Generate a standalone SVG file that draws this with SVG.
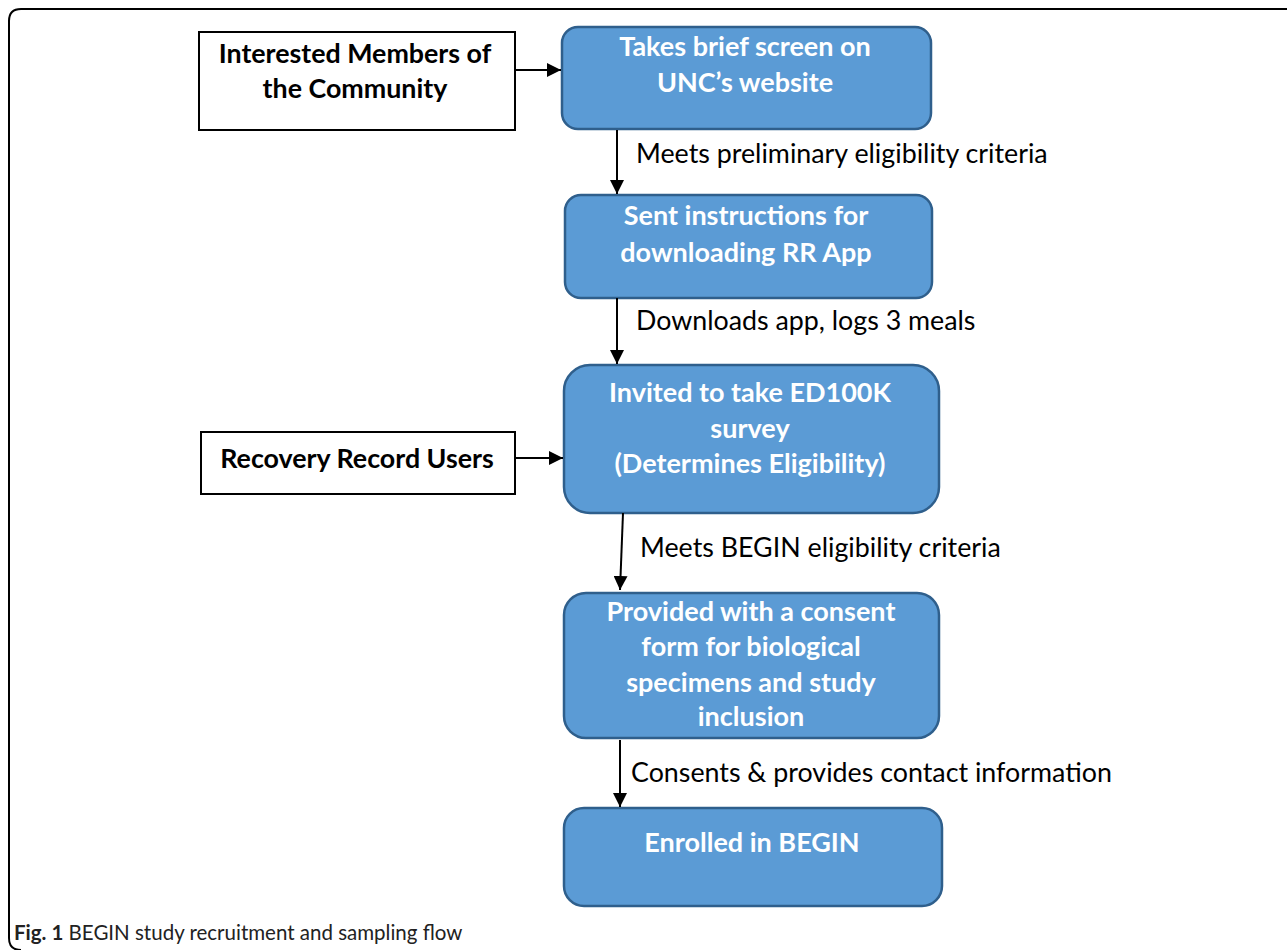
<svg xmlns="http://www.w3.org/2000/svg" width="1287" height="950" viewBox="0 0 1287 950">
<style>
.blue{fill:#5B9BD5;stroke:#2F5F8C;stroke-width:2.5}
.white{fill:#fff;stroke:#000;stroke-width:2}
.bt{font-family:Lato,"Liberation Sans",sans-serif;font-weight:bold;font-size:27px;fill:#fff;text-anchor:middle}
.kt{font-family:Lato,"Liberation Sans",sans-serif;font-weight:bold;font-size:26.8px;fill:#000;text-anchor:middle}
.lab{font-family:Lato,"Liberation Sans",sans-serif;font-size:26.8px;fill:#000}
.cap{font-family:Lato,"Liberation Sans",sans-serif;font-size:20.5px;fill:#222}
.conn{stroke:#000;stroke-width:2;fill:none;marker-end:url(#ah)}
</style>
<defs>
<marker id="ah" viewBox="0 0 10 10" refX="10" refY="5" markerWidth="7" markerHeight="7" orient="auto" markerUnits="strokeWidth">
<path d="M0,0 L10,5 L0,10 z" fill="#000"/>
</marker>
</defs>
<rect width="1287" height="950" fill="#fff"/>
<path d="M1287,9 H21 Q9,9 9,21 V938 Q9,950 21,950" fill="none" stroke="#000" stroke-width="2"/>
<g id="community">
<rect class="white" x="199" y="32" width="316" height="98"/>
<text class="kt" x="355" y="63">Interested Members of</text>
<text class="kt" x="355" y="98">the Community</text>
</g>
<g id="rrusers">
<rect class="white" x="201" y="432" width="314" height="62"/>
<text class="kt" x="357" y="468">Recovery Record Users</text>
</g>
<g id="screen">
<rect class="blue" x="562" y="27" width="369" height="102" rx="16"/>
<text class="bt" x="745" y="56">Takes brief screen on</text>
<text class="bt" x="745" y="92">UNC’s website</text>
</g>
<g id="instructions">
<rect class="blue" x="565" y="195" width="367" height="103" rx="16"/>
<text class="bt" x="746" y="225">Sent instructions for</text>
<text class="bt" x="746" y="262">downloading RR App</text>
</g>
<g id="survey">
<rect class="blue" x="564" y="365" width="375" height="148" rx="26"/>
<text class="bt" x="750" y="402">Invited to take ED100K</text>
<text class="bt" x="750" y="438">survey</text>
<text class="bt" x="750" y="473">(Determines Eligibility)</text>
</g>
<g id="consent">
<rect class="blue" x="564" y="593" width="375" height="145" rx="22"/>
<text class="bt" x="751" y="621">Provided with a consent</text>
<text class="bt" x="751" y="656">form for biological</text>
<text class="bt" x="751" y="692">specimens and study</text>
<text class="bt" x="751" y="726">inclusion</text>
</g>
<g id="enrolled">
<rect class="blue" x="564" y="808" width="378" height="98" rx="20"/>
<text class="bt" x="752" y="852">Enrolled in BEGIN</text>
</g>
<g id="connectors">
<line class="conn" x1="515" y1="70" x2="561" y2="70"/>
<line class="conn" x1="515" y1="458" x2="563" y2="458"/>
<line class="conn" x1="617" y1="130" x2="617" y2="194"/>
<line class="conn" x1="617" y1="298" x2="617" y2="364"/>
<line class="conn" x1="623" y1="513" x2="620" y2="590"/>
<line class="conn" x1="620" y1="740" x2="620" y2="807"/>
<text class="lab" x="636" y="163">Meets preliminary eligibility criteria</text>
<text class="lab" x="636" y="330">Downloads app, logs 3 meals</text>
<text class="lab" x="640" y="557">Meets BEGIN eligibility criteria</text>
<text class="lab" x="631" y="782">Consents &amp; provides contact information</text>
</g>
<text class="cap" x="14" y="940"><tspan font-weight="bold">Fig. 1</tspan> BEGIN study recruitment and sampling flow</text>
</svg>
